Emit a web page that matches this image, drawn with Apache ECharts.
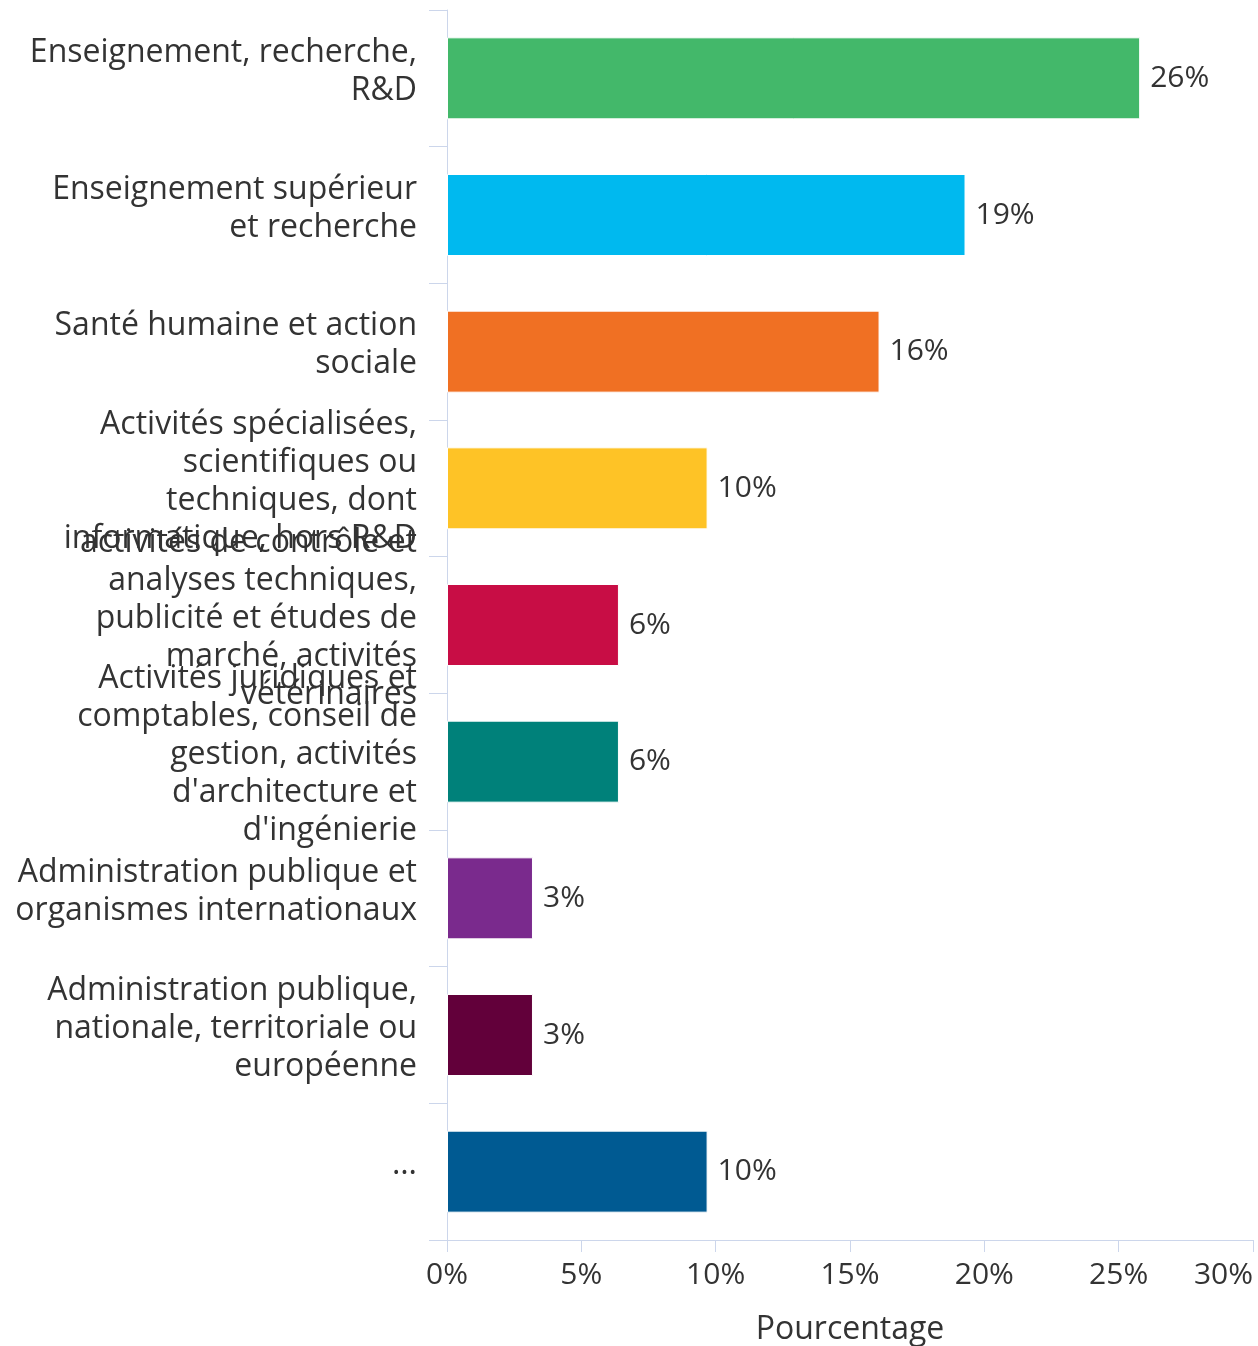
<!DOCTYPE html>
<html>
<head>
<meta charset="utf-8">
<script src="https://cdn.jsdelivr.net/npm/echarts@6/dist/echarts.min.js"></script>
<style>
  html, body { margin: 0; padding: 0; background: #fff; }
  #chart { width: 1258px; height: 1346px; }
</style>
</head>
<body>
<div id="chart"></div>
<script>
// categories (line breaks as in the original labels)
var categories = [
  'Enseignement, recherche,\nR&D',
  'Enseignement supérieur\net recherche',
  'Santé humaine et action\nsociale',
  'Activités spécialisées,\nscientifiques ou\ntechniques, dont\ninformatique, hors R&D',
  'activités de contrôle et\nanalyses techniques,\npublicité et études de\nmarché, activités\nvétérinaires',
  'Activités juridiques et\ncomptables, conseil de\ngestion, activités\nd\'architecture et\nd\'ingénierie',
  'Administration publique et\norganismes internationaux',
  'Administration publique,\nnationale, territoriale ou\neuropéenne',
  '…'
];
var values = [25.8, 19.3, 16.1, 9.7, 6.4, 6.4, 3.2, 3.2, 9.7];
var barColors = ['#43b86a', '#00b9ef', '#f07023', '#fec326', '#c80d45', '#00817a', '#7a2a8d', '#62003a', '#005a92'];
var xTicks = [0, 5, 10, 15, 20, 25, 30];

var chart = echarts.init(document.getElementById('chart'));
var axisColor = '#ccd6eb';
var textColor = '#333333';
var font = '"Open Sans", sans-serif';

chart.setOption({
  animation: false,
  textStyle: { fontFamily: font },
  grid: { left: 447, right: 5, top: 10, bottom: 106, containLabel: false, outerBoundsMode: 'none' },
  xAxis: {
    type: 'value',
    min: xTicks[0],
    max: xTicks[xTicks.length - 1],
    interval: 5,
    splitLine: { show: false },
    axisLine: { show: true, lineStyle: { color: axisColor, width: 1 } },
    axisTick: { show: true, length: 12, lineStyle: { color: axisColor } },
    axisLabel: {
      formatter: '{value}%',
      color: textColor,
      fontSize: 30,
      fontFamily: font,
      margin: 20,
      alignMaxLabel: 'right'
    },
    name: 'Pourcentage',
    nameLocation: 'middle',
    nameGap: 74,
    nameTextStyle: { color: textColor, fontSize: 32, fontFamily: font }
  },
  yAxis: {
    type: 'category',
    inverse: true,
    data: categories,
    axisLine: { show: true, lineStyle: { color: axisColor, width: 1 } },
    axisTick: { show: true, length: 18, lineStyle: { color: axisColor } },
    axisLabel: {
      interval: 0,
      align: 'right',
      margin: 30,
      formatter: function (v) {
        // trailing spacer line lifts the text a little, like the original
        return v.split('\n').map(function (l) { return '{t|' + l + '}'; }).join('\n') + '\n{g| }';
      },
      rich: {
        t: { color: textColor, fontSize: 32, fontFamily: font, lineHeight: 38, align: 'right' },
        g: { fontSize: 4, lineHeight: 13 }
      }
    }
  },
  series: [{
    type: 'bar',
    data: values.map(function (v, i) {
      return { value: v, itemStyle: { color: barColors[i] } };
    }),
    barCategoryGap: '40%',
    itemStyle: { borderColor: '#ffffff', borderWidth: 1 },
    label: {
      show: true,
      position: 'right',
      distance: 10,
      color: textColor,
      fontSize: 30,
      fontFamily: font,
      formatter: function (p) { return Math.round(p.value) + '%'; }
    }
  }]
});
</script>
</body>
</html>
